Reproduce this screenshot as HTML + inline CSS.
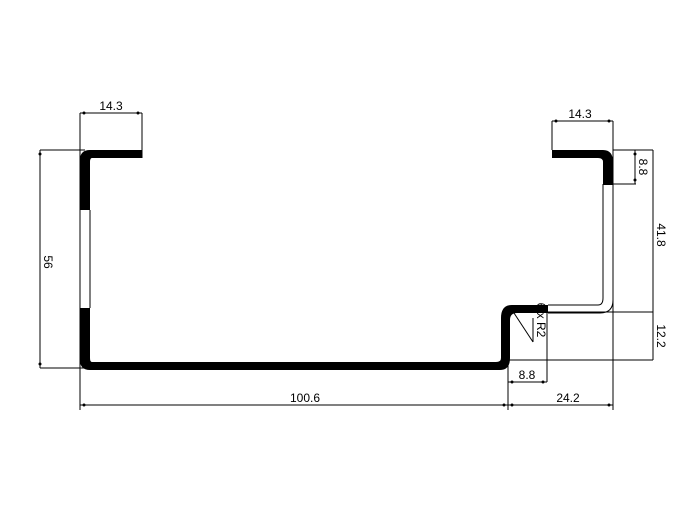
<!DOCTYPE html>
<html><head><style>
html,body{margin:0;padding:0;background:#fff}
svg text{font-family:"Liberation Sans",sans-serif;font-size:12px;fill:#000}
</style></head><body>
<svg width="700" height="500" viewBox="0 0 700 500" xmlns="http://www.w3.org/2000/svg">
<g stroke="#000" stroke-width="1" fill="none">
<!-- dimension lines -->
<line x1="80" y1="113" x2="142" y2="113"/>
<line x1="80" y1="113" x2="80" y2="410"/>
<line x1="142" y1="113" x2="142" y2="158"/>
<line x1="40" y1="150" x2="40" y2="368"/>
<line x1="40" y1="150" x2="85" y2="150"/>
<line x1="40" y1="368" x2="92" y2="368"/>
<line x1="80" y1="405" x2="613" y2="405"/>
<line x1="508" y1="360" x2="508" y2="410"/>
<line x1="613" y1="121" x2="613" y2="410"/>
<line x1="552" y1="121" x2="613" y2="121"/>
<line x1="552" y1="121" x2="552" y2="150"/>
<line x1="613" y1="150" x2="653" y2="150"/>
<line x1="613" y1="184" x2="636" y2="184"/>
<line x1="635" y1="150" x2="635" y2="184"/>
<line x1="653" y1="150" x2="653" y2="360"/>
<line x1="540" y1="312" x2="653" y2="312"/>
<line x1="508" y1="360" x2="653" y2="360"/>
<line x1="547" y1="305" x2="547" y2="382"/>
<line x1="508" y1="382" x2="547" y2="382"/>
<line x1="512" y1="310" x2="533" y2="342"/>
<line x1="533" y1="318" x2="533" y2="342"/>
<!-- left web outline gap -->
<line x1="80" y1="210" x2="80" y2="308"/>
<line x1="90" y1="210" x2="90" y2="308"/>
<!-- right outlined part -->
<path d="M548 305 H598 Q603 305 603 298 V184"/>
<path d="M548 313 H600 Q613 313 613 300"/>
</g>
<g fill="#000">
<path d="M80 210 V160 Q80 150 90 150 H142 V158 H92 Q90 158 90 162 V210 Z"/>
<path d="M80 308 V360 Q80 370 90 370 H500 Q510 370 510 358 V320 Q510 313 517 313 H548 V305 H512 Q501 305 501 318 V358 Q501 362 496 362 H92 Q90 362 90 358 V308 Z"/>
<path d="M552 150 H603 Q613 150 613 162 V185 H603 V162 Q603 158 598 158 H552 Z"/>
<!-- arrow dots -->
<circle cx="84" cy="113" r="1.5"/><circle cx="138" cy="113" r="1.5"/>
<circle cx="40" cy="154" r="1.5"/><circle cx="40" cy="364" r="1.5"/>
<circle cx="84" cy="405" r="1.5"/><circle cx="504" cy="405" r="1.5"/>
<circle cx="512" cy="405" r="1.5"/><circle cx="609" cy="405" r="1.5"/>
<circle cx="556" cy="121" r="1.5"/><circle cx="609" cy="121" r="1.5"/>
<circle cx="635" cy="154" r="1.5"/><circle cx="635" cy="180" r="1.5"/>
<circle cx="512" cy="382" r="1.5"/><circle cx="543" cy="382" r="1.5"/>
</g>
<text x="111" y="110" text-anchor="middle">14.3</text>
<text x="580" y="118" text-anchor="middle">14.3</text>
<text x="305" y="402" text-anchor="middle">100.6</text>
<text x="568" y="402" text-anchor="middle">24.2</text>
<text x="527" y="379" text-anchor="middle">8.8</text>
<text transform="translate(44,262) rotate(90)" text-anchor="middle">56</text>
<text transform="translate(639,167) rotate(90)" text-anchor="middle">8.8</text>
<text transform="translate(657,235) rotate(90)" text-anchor="middle">41.8</text>
<text transform="translate(657,336) rotate(90)" text-anchor="middle">12.2</text>
<text transform="translate(537,320) rotate(90)" text-anchor="middle" font-size="11">6 x R2</text>
</svg>
</body></html>
